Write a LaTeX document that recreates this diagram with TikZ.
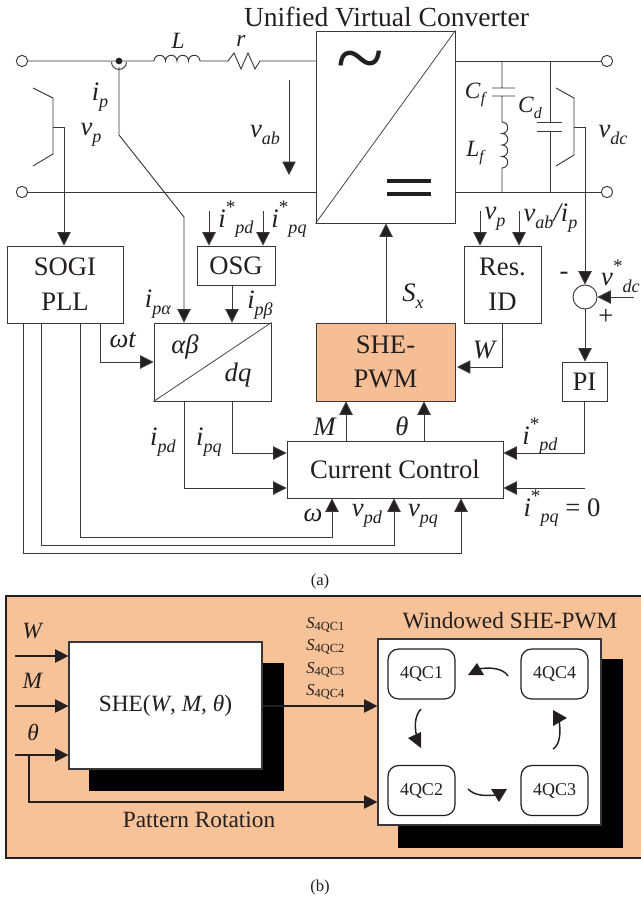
\documentclass[tikz,border=0pt]{standalone}
\usepackage{fontspec}
\setmainfont{Liberation Serif}
\usetikzlibrary{arrows.meta,shapes.geometric}
\definecolor{ink}{HTML}{231F20}
\definecolor{lin}{HTML}{3A3738}
\definecolor{peach}{HTML}{F7C298}
\definecolor{she}{HTML}{F6BE94}
\newcommand\sbb[1]{\raisebox{-.24em}{\scalebox{.68}{\textit{#1}}}}
\newcommand\strr{\raisebox{.52em}{\scalebox{.72}{*}}}
\tikzset{
  wire/.style={draw=lin,line width=.7pt},
  arr/.style={wire,-{Triangle[length=10pt,width=10pt,fill=ink]}},
  box/.style 2 args={draw=lin,line width=.7pt,inner sep=0pt,align=center,text=ink,font=\fontsize{20}{24}\selectfont,
     minimum width=#1*.75pt,minimum height=#2*.75pt},
  txt/.style={inner sep=0pt,text=ink,font=\fontsize{20}{24}\selectfont},
  mid/.style={inner sep=0pt,text=ink,font=\fontsize{17.5}{21}\selectfont},
  sm/.style={inner sep=0pt,text=ink,font=\fontsize{12.5}{14}\selectfont},
  term/.style={circle,draw=lin,line width=.7pt,fill=white,minimum size=8.5pt,inner sep=0pt},
  qc/.style={draw=ink,line width=.9pt,rounded corners=8pt,fill=white,inner sep=0pt,text=ink,
     font=\fontsize{13.5}{16}\selectfont,minimum width=50.25pt,minimum height=37.5pt},
  tri/.style={fill=ink,draw=none},
}
\begin{document}
\begin{tikzpicture}[x=.75pt,y=-.75pt]
\useasboundingbox (0,0) rectangle (641,899);
% ---------- power stage ----------
\node[term] (t1) at (22,61) {};
\node[term] (t2) at (22,192) {};
\node[term] (t3) at (607,61) {};
\node[term] (t4) at (607,192) {};
\node[box={139}{192}] (conv) at (385.5,127) {};
\draw[wire,line width=.55pt] (conv.south west) -- (conv.north east);
\node[text=ink,inner sep=0pt,font=\fontsize{66}{66}\selectfont] (tilde) at (360,69) {\char"007E};
\coordinate (eq1) at (387,181); \coordinate (eq2) at (431,181);
\coordinate (eq3) at (387,194); \coordinate (eq4) at (431,194);
\draw[draw=ink,line width=2.4pt] (eq1) -- (eq2) (eq3) -- (eq4);
\coordinate (ct) at (119,61);
\coordinate (la) at (154,61); \coordinate (lb) at (200,61);
\coordinate (ra) at (224,61); \coordinate (rb) at (263,61);
\draw[wire] (t1) -- (ct) -- (la)
  arc[start angle=180,end angle=0,radius=4.31pt]
  arc[start angle=180,end angle=0,radius=4.31pt]
  arc[start angle=180,end angle=0,radius=4.31pt]
  arc[start angle=180,end angle=0,radius=4.31pt]
  -- (ra) -- (228,61) -- (234,53) -- (241,69) -- (248,53) -- (255,69) -- (260,61) -- (rb)
  -- (conv.west |- ct);
\draw[wire] (t2) -- (conv.west |- t2);
\draw[wire] (conv.east |- t3) -- (t3);
\draw[wire] (conv.east |- t4) -- (t4);
\fill[ink] (ct) circle (2.5pt);
\draw[wire] (111.5,62) arc[start angle=180,end angle=360,radius=5.6pt];
\node[mid] (Ll) at (178,41) {\textit{L}};
\node[mid] (rl) at (241,41) {\textit{r}};
% filter
\coordinate (cf0) at (502,61); \coordinate (cf1) at (502,88); \coordinate (cf2) at (502,96);
\coordinate (lf1) at (502,122); \coordinate (lf2) at (502,192);
\draw[wire] (cf0) -- (cf1) (492,88) -- (515,88) (492,96) -- (515,96) (cf2) -- (lf1)
  arc[start angle=90,end angle=-90,radius=4.31pt]
  arc[start angle=90,end angle=-90,radius=4.31pt]
  arc[start angle=90,end angle=-90,radius=4.31pt]
  arc[start angle=90,end angle=-90,radius=4.31pt]
  -- (lf2);
\coordinate (cd0) at (550,61); \coordinate (cd1) at (550,122); \coordinate (cd2) at (550,131); \coordinate (cd3) at (550,192);
\draw[wire] (cd0) -- (cd1) (537,122) -- (562,122) (537,131) -- (562,131) (cd2) -- (cd3);
\node[mid] (cfl) at (476,95) {\textit{C}\sbb{f}};
\node[mid] (lfl) at (476,153) {\textit{L}\sbb{f}};
\node[mid] (cdl) at (530,108) {\textit{C}\sbb{d}};
% voltage brackets
\draw[wire] (33,88) -- (53,98) -- (53,154) -- (33,166);
\draw[wire] (556,88) -- (574,98) -- (574,155) -- (556,166);
\node[txt] (vpl) at (91,135) {\textit{v}\sbb{p}};
\node[txt] (ipl) at (100,97) {\textit{i}\sbb{p}};
\node[txt] (vabl) at (265,135) {\textit{v}\sbb{ab}};
\node[txt] (vdcl) at (613,135) {\textit{v}\sbb{dc}};
\coordinate (vabt) at (289,80); \coordinate (vabh) at (289,175);
\draw[arr] (vabt) -- (vabh);
\node[txt,font=\fontsize{20.7}{24}\selectfont] (title) at (386.5,17) {Unified Virtual Converter};
% ---------- control blocks ----------
\node[box={116}{77}] (sogi) at (65,284.5) {SOGI\\[2pt]PLL};
\node[box={78}{39}] (osg) at (236,265.5) {OSG};
\node[box={117}{78}] (abdq) at (212.5,362) {};
\draw[wire,line width=.55pt] (abdq.south west) -- (abdq.north east);
\node[txt] (abl) at (185,347) {\textit{αβ}};
\node[txt] (dql) at (238,375) {\textit{dq}};
\node[box={139}{78},fill=she] (she) at (385.5,362) {SHE-\\[2pt]PWM};
\node[box={77}{77}] (res) at (502.5,284.5) {Res.\\[2pt]ID};
\node[box={45}{39}] (pi) at (584.5,381.5) {PI};
\node[box={216}{57}] (cc) at (395,469.5) {Current Control};
\node[circle,draw=lin,line width=.7pt,minimum size=18pt,inner sep=0pt] (sum) at (585,297) {};
% connectors
\coordinate (vpt) at (64,127);
\draw[wire] (53,127) -- (vpt);
\draw[arr] (vpt) -- (vpt |- sogi.north);
\draw[wire] (574,127) -- (585,127);
\draw[arr] (585,127) -- (sum.north);
\coordinate (ip1) at (119,135); \coordinate (ip2) at (184,217);
\draw[arr] (119,67) -- (ip1) -- (ip2) -- (184,0 |- abdq.north);
\draw[arr] (209,211) -- (209,0 |- osg.north);
\draw[arr] (263,211) -- (263,0 |- osg.north);
\draw[arr] (232,0 |- osg.south) -- (232,0 |- abdq.north);
\draw[arr] (100,0 |- sogi.south) |- (abdq.west);
\draw[arr] (386,0 |- she.north) -- (386,0 |- conv.south);
\draw[arr] (480,211) -- (480,0 |- res.north);
\draw[arr] (519,211) -- (519,0 |- res.north);
\draw[arr] (502,0 |- res.south) |- (457,367);
\draw[arr] (sum.south) -- (585,0 |- pi.north);
\draw[arr] (634,297) -- (sum.east);
\draw[arr] (584.5,0 |- pi.south) |- (cc.east |- 0,453);
\draw[arr] (585,488) -- (cc.east |- 0,488);
\draw[arr] (346,0 |- cc.north) -- (346,0 |- she.south);
\draw[arr] (424,0 |- cc.north) -- (424,0 |- she.south);
\draw[arr] (184,0 |- abdq.south) |- (cc.west |- 0,488);
\draw[arr] (232,0 |- abdq.south) |- (cc.west |- 0,453);
\draw[arr] (80,0 |- sogi.south) |- (332,537) -- (332,0 |- cc.south);
\draw[arr] (41,0 |- sogi.south) |- (394,545) -- (394,0 |- cc.south);
\draw[arr] (23,0 |- sogi.south) |- (461,553) -- (461,0 |- cc.south);
% labels
\node[txt] at (236,219) {\textit{i}\strr\sbb{pd}};
\node[txt] at (289,219) {\textit{i}\strr\sbb{pq}};
\node[txt] at (495,219) {\textit{v}\sbb{p}};
\node[txt] at (550.5,218) {\textit{v}\sbb{ab}\textit{/i}\sbb{p}};
\node[txt] at (158,304) {\textit{i}\sbb{pα}};
\node[txt] at (260,305) {\textit{i}\sbb{pβ}};
\node[txt] at (123,340) {\textit{ωt}};
\node[txt] at (163,442) {\textit{i}\sbb{pd}};
\node[txt] at (209,442) {\textit{i}\sbb{pq}};
\node[txt] at (325,427) {\textit{M}};
\node[txt] at (402,426) {\textit{θ}};
\node[txt] at (413,296) {\textit{S}\sbb{x}};
\node[txt] at (485,350) {\textit{W}};
\node[txt] at (540,436) {\textit{i}\strr\sbb{pd}};
\node[txt] at (562,508) {\textit{i}\strr\sbb{pq} = 0};
\node[txt] at (313,515) {\textit{ω}};
\node[txt] at (367,516) {\textit{v}\sbb{pd}};
\node[txt] at (423,516) {\textit{v}\sbb{pq}};
\node[txt] at (564,276) {-};
\node[txt] at (620.5,276) {\textit{v}\strr\sbb{dc}};
\node[txt] at (606,317) {+};
\node[sm] at (320,581) {(a)};
\node[sm] at (320,887) {(b)};
% ---------- panel (b) ----------
\path[fill=peach,draw=ink,line width=.9pt] (6,596) rectangle (645,858);
\fill[black] (89,663) rectangle (284,791);
\node[box={193}{127},fill=white,line width=.9pt,font=\fontsize{17.5}{21}\selectfont] (sheb) at (165.5,705.5) {SHE(\textit{W}, \textit{M}, \textit{θ})};
\fill[black] (398,659) rectangle (623,848);
\node[box={223}{186},fill=white,line width=.9pt] (win) at (489.5,732) {};
\node[qc] (q1) at (421.5,674) {4QC1};
\node[qc] (q4) at (554.5,674) {4QC4};
\node[qc] (q2) at (421.5,790.5) {4QC2};
\node[qc] (q3) at (554.5,790.5) {4QC3};
\coordinate (inW) at (15,656); \coordinate (inM) at (15,706); \coordinate (inT) at (15,755);
\draw[arr,draw=ink,line width=.85pt] (inW) -- (sheb.west |- inW);
\draw[arr,draw=ink,line width=.85pt] (inM) -- (sheb.west |- inM);
\draw[arr,draw=ink,line width=.85pt] (inT) -- (sheb.west |- inT);
\draw[arr,draw=ink,line width=.85pt] (sheb.east |- 0,706) -- (win.west |- 0,706);
\draw[arr,draw=ink,line width=.85pt] (29,755) |- (win.west |- 0,802);
\node[mid] at (33,631) {\textit{W}};
\node[mid] at (33,681) {\textit{M}};
\node[mid] at (33,732) {\textit{θ}};
\node[mid] at (199,820) {Pattern Rotation};
\node[mid] at (510,621) {Windowed SHE-PWM};
\foreach \yy/\nn in {625/1,647/2,670/3,692/4}{
  \node[inner sep=0pt,text=ink,anchor=west,font=\fontsize{12.5}{14}\selectfont] at (306,\yy) {\textit{S}\raisebox{-.15em}{\fontsize{9.3}{10}\selectfont 4QC\nn}};
}
% rotation arrows
\draw[wire,draw=ink,line width=1.1pt] (508,676) .. controls (503,668) and (490,667) .. (477,669);
\fill[tri] (468,675) -- (484,675) -- (477,663) -- cycle;
\draw[wire,draw=ink,line width=1.1pt] (421,709) .. controls (414,716) and (414,730) .. (418,740);
\fill[tri] (408,738) -- (421,732) -- (421,748) -- cycle;
\draw[wire,draw=ink,line width=1.1pt] (468,789) .. controls (475,796) and (485,796) .. (497,795);
\fill[tri] (491,789) -- (507,789) -- (499,802) -- cycle;
\draw[wire,draw=ink,line width=1.1pt] (553,749) .. controls (560,745) and (561,732) .. (559,720);
\fill[tri] (553,710) -- (553,726) -- (567,718) -- cycle;
\end{tikzpicture}
\end{document}
